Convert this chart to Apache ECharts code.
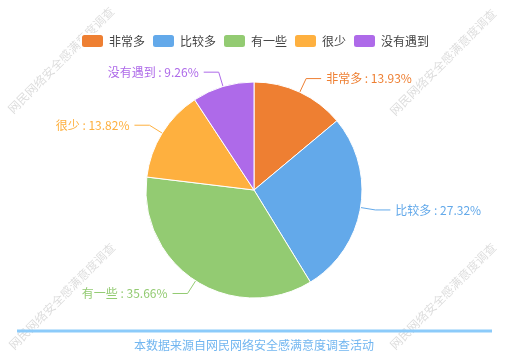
<!DOCTYPE html>
<html>
<head>
<meta charset="utf-8">
<script src="https://cdn.jsdelivr.net/npm/echarts@6/dist/echarts.min.js"></script>
<style>html,body{margin:0;padding:0;background:#fff}#c{width:509px;height:362px}</style>
</head>
<body>
<div id="c"></div>
<script>
var categories = ['非常多', '比较多', '有一些', '很少', '没有遇到'];
var values = [13.93, 27.32, 35.66, 13.82, 9.26];
var colors = ['#ee7f32', '#63a9ea', '#93cb72', '#feb03f', '#ae6ae9'];
var footerText = '本数据来源自网民网络安全感满意度调查活动';
var watermarkText = '网民网络安全感满意度调查';

var font = '"Noto Sans CJK SC", "Noto Sans", sans-serif';
var chart = echarts.init(document.getElementById('c'), null, {renderer: 'canvas'});

var wmPos = [[61, 60], [443, 62], [62, 296], [443, 296]];
var graphics = wmPos.map(function (p) {
  return {
    type: 'text', x: p[0], y: p[1], rotation: Math.PI / 4, z: -10,
    style: {
      text: watermarkText, font: '12px ' + font, fill: 'rgba(0,0,0,0.14)',
      align: 'center', verticalAlign: 'middle'
    }
  };
});
graphics.push({
  type: 'line', z: 10,
  shape: {x1: 17, y1: 331, x2: 492, y2: 331},
  style: {stroke: '#8ccbfa', lineWidth: 3}
});
graphics.push({
  type: 'text', x: 254, y: 345, z: 10,
  style: {
    text: footerText, font: '12px ' + font, fill: '#72b6f0',
    align: 'center', verticalAlign: 'middle'
  }
});

var data = categories.map(function (c, i) {
  return {
    name: c, value: values[i],
    itemStyle: {color: colors[i]},
    label: {color: colors[i]},
    labelLine: {lineStyle: {color: colors[i]}}
  };
});

chart.setOption({
  backgroundColor: '#fff',
  color: colors,
  textStyle: {fontFamily: font},
  legend: {
    top: 28, left: 'center',
    itemWidth: 23, itemHeight: 14, itemGap: 6,
    textStyle: {fontSize: 12, color: '#444', fontFamily: font},
    data: categories
  },
  graphic: graphics,
  series: [{
    type: 'pie',
    center: [254, 190],
    radius: 108,
    startAngle: 90,
    data: data,
    itemStyle: {borderColor: '#fff', borderWidth: 1},
    label: {
      show: true,
      formatter: '{b} : {c}%',
      fontSize: 12,
      fontFamily: font
    },
    labelLine: {length: 15, length2: 15}
  }]
});
</script>
</body>
</html>
